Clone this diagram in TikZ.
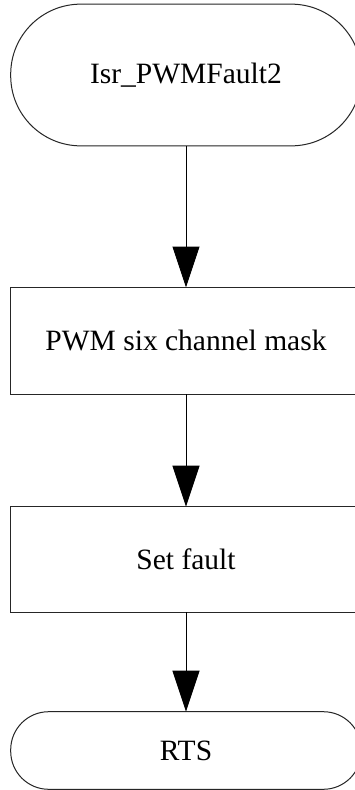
\documentclass[tikz,border=0pt]{standalone}
\usepackage{fontspec}
\setmainfont{Liberation Serif}
\usetikzlibrary{arrows.meta}
\begin{document}
\begin{tikzpicture}[x=1pt,y=-1pt,
  base/.style={draw=black!85, line width=1pt, fill=white, inner sep=0pt, outer sep=0pt,
    minimum width=350.6pt, font=\fontsize{29.5}{34}\selectfont},
  terminal/.style={base, rounded corners=#1},
  procbox/.style={base},
  flow/.style={draw=black, line width=1pt, -{Triangle[length=41pt,width=27pt]}}]
\useasboundingbox (0,0) rectangle (354,790);
\fill[white] (0,0) rectangle (354,790);
\node[terminal=70pt, minimum height=141.7pt] (start) at (186,75) {Isr\_PWMFault2};
\node[procbox, minimum height=106.5pt] (mask) at (186,340.75) {PWM six channel mask};
\node[procbox, minimum height=105.6pt] (fault) at (186,559.5) {Set fault};
\node[terminal=38pt, minimum height=77.6pt] (rts) at (186,750.5) {RTS};
\draw[flow] (start.south) -- (mask.north);
\draw[flow] (mask.south) -- (fault.north);
\draw[flow] (fault.south) -- (rts.north);
\end{tikzpicture}
\end{document}
